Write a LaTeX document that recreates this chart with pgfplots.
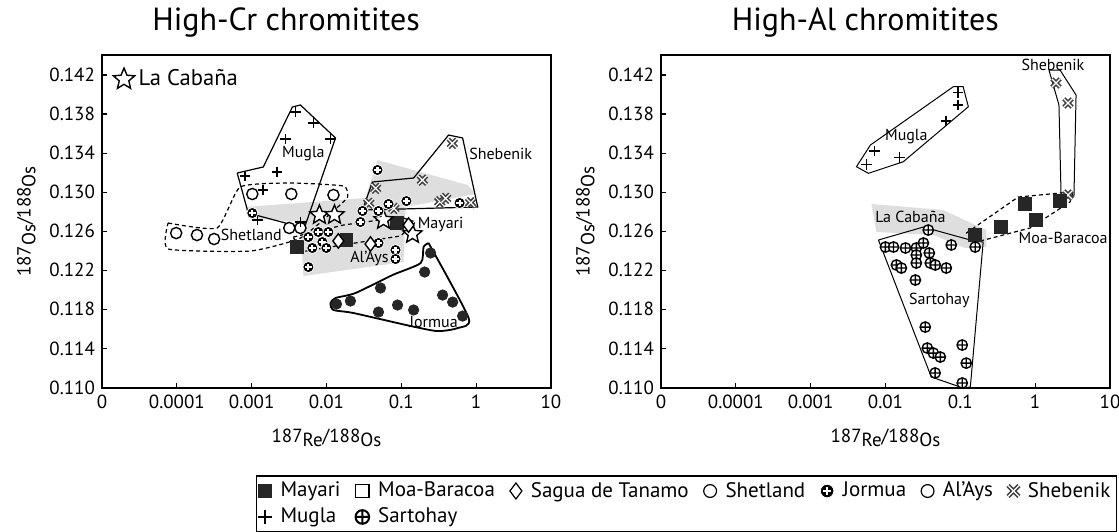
\documentclass[border=0pt]{standalone}
\usepackage{pgfplots}
\pgfplotsset{compat=1.18}
\usepackage{fontspec}
\setmainfont{PT Sans}
\usetikzlibrary{plotmarks}

\pgfdeclareplotmark{fstar}{%
  \pgfpathmoveto{\pgfpointpolar{90}{\pgfplotmarksize}}%
  \pgfpathlineto{\pgfpointpolar{126}{0.45\pgfplotmarksize}}%
  \pgfpathlineto{\pgfpointpolar{162}{\pgfplotmarksize}}%
  \pgfpathlineto{\pgfpointpolar{198}{0.45\pgfplotmarksize}}%
  \pgfpathlineto{\pgfpointpolar{234}{\pgfplotmarksize}}%
  \pgfpathlineto{\pgfpointpolar{270}{0.45\pgfplotmarksize}}%
  \pgfpathlineto{\pgfpointpolar{306}{\pgfplotmarksize}}%
  \pgfpathlineto{\pgfpointpolar{342}{0.45\pgfplotmarksize}}%
  \pgfpathlineto{\pgfpointpolar{18}{\pgfplotmarksize}}%
  \pgfpathlineto{\pgfpointpolar{54}{0.45\pgfplotmarksize}}%
  \pgfpathclose
  \pgfusepathqfillstroke}
\pgfdeclareplotmark{jplus}{%
  \pgfsetfillcolor{black}\pgfsetstrokecolor{white}\pgfsetlinewidth{0.4pt}%
  \pgfpathcircle{\pgfpointorigin}{\pgfplotmarksize}%
  \pgfusepathqfillstroke
  \pgfsetlinewidth{1.1pt}%
  \pgfpathmoveto{\pgfqpoint{-0.6\pgfplotmarksize}{0pt}}\pgfpathlineto{\pgfqpoint{0.6\pgfplotmarksize}{0pt}}%
  \pgfpathmoveto{\pgfqpoint{0pt}{-0.6\pgfplotmarksize}}\pgfpathlineto{\pgfqpoint{0pt}{0.6\pgfplotmarksize}}%
  \pgfusepathqstroke}
\pgfdeclareplotmark{hx}{%
  \pgfsetlinewidth{2.2pt}\pgfsetstrokecolor{black!75}%
  \pgfpathmoveto{\pgfqpoint{-\pgfplotmarksize}{-\pgfplotmarksize}}\pgfpathlineto{\pgfqpoint{\pgfplotmarksize}{\pgfplotmarksize}}%
  \pgfpathmoveto{\pgfqpoint{-\pgfplotmarksize}{\pgfplotmarksize}}\pgfpathlineto{\pgfqpoint{\pgfplotmarksize}{-\pgfplotmarksize}}%
  \pgfusepathqstroke
  \pgfsetlinewidth{0.6pt}\pgfsetstrokecolor{white}%
  \pgfpathmoveto{\pgfqpoint{-\pgfplotmarksize}{-\pgfplotmarksize}}\pgfpathlineto{\pgfqpoint{\pgfplotmarksize}{\pgfplotmarksize}}%
  \pgfpathmoveto{\pgfqpoint{-\pgfplotmarksize}{\pgfplotmarksize}}\pgfpathlineto{\pgfqpoint{\pgfplotmarksize}{-\pgfplotmarksize}}%
  \pgfusepathqstroke}

\pgfplotsset{
  osplot/.style={
    scale only axis, clip=false,
    width=224.5pt, height=166.5pt,
    xmin=1e-5, xmax=10,
    ymin=0.10994, ymax=0.14405,
    axis line style={line width=1pt},
    tick pos=left, tick align=inside, major tick length=2.5pt,
    tick style={black, line width=0.6pt},
    xminorticks=false, yminorticks=false,
    xtick={1e-5,1e-4,1e-3,1e-2,1e-1,1,10},
    xticklabels={0,0.0001,0.001,0.01,0.1,1,10},
    ytick={0.110,0.114,0.118,0.122,0.126,0.130,0.134,0.138,0.142},
    yticklabels={0.110,0.114,0.118,0.122,0.126,0.130,0.134,0.138,0.142},
    ticklabel style={font=\fontsize{9.5}{11}\selectfont},
    label style={font=\fontsize{9.5}{11}\selectfont},
    xlabel={187\raisebox{-0.5ex}{Re}/188\raisebox{-0.5ex}{Os}},
    ylabel={187\raisebox{-0.5ex}{Os}/188\raisebox{-0.5ex}{Os}},
    xlabel style={yshift=-3pt},
    title style={font=\fontsize{16}{19}\selectfont, anchor=base, yshift=6pt},
  },
  poly/.style={black, line width=0.6pt, forget plot},
  dpoly/.style={black, line width=0.6pt, dash pattern=on 2pt off 1.5pt, forget plot},
  grayfield/.style={fill=black!13, draw=none, forget plot},
}
\tikzset{lab/.style={font=\fontsize{8}{9}\selectfont, inner sep=0pt}}

\begin{document}
\begin{tikzpicture}
\useasboundingbox (0,0) rectangle (559.5pt,265.5pt);

% ---------------- Left: High-Cr ----------------
\begin{axis}[xmode=log, osplot, at={(51pt,71.5pt)}, anchor=south west,
  title={High-Cr chromitites}, title style={at={(0.41,1)}},
  legend style={at={(0.02,0.975)}, anchor=north west, draw=none, fill=none,
    font=\fontsize{11.3}{13}\selectfont, inner sep=1pt},
  legend cell align=left]
\addlegendimage{only marks, mark=fstar, mark size=5.6pt, mark options={fill=white, draw=black, line width=0.7pt}}
\addlegendentry{La Cabaña}

\addplot[grayfield] coordinates {(8.2e-4,0.12848) (3.32e-2,0.12940) (4.8e-2,0.13329) (0.769,0.13073) (0.985,0.12981) (0.114,0.12848) (0.107,0.12284) (4.91e-3,0.12141) (4.48e-3,0.12694) (9.0e-4,0.12735)};

\addplot[dpoly, smooth, tension=0.3] coordinates {(7.65e-5,0.12684) (3.46e-4,0.12633) (7.03e-4,0.13053) (3.29e-3,0.13094) (1.68e-2,0.13063) (1.91e-2,0.12950) (1.32e-2,0.12827) (4.48e-3,0.12530) (9.57e-4,0.12397) (7.65e-5,0.12418) (7.65e-5,0.12684)};
\addplot[poly] coordinates {(6.41e-4,0.13196) (1.43e-3,0.13258) (3.50e-3,0.13872) (4.48e-3,0.13893) (1.32e-2,0.13555) (5.22e-3,0.12663) (4.48e-3,0.12643) (9.0e-4,0.12786) (6.41e-4,0.13196)};
\addplot[poly] coordinates {(3.03e-2,0.12817) (4.11e-2,0.13104) (0.146,0.13145) (0.428,0.13585) (0.659,0.13555) (1.05,0.12848) (3.03e-2,0.12817)};
\addplot[dpoly] coordinates {(3.6e-3,0.12540) (1.68e-2,0.12663) (9.75e-2,0.12745) (0.155,0.12694) (9.75e-2,0.12551) (1.63e-2,0.12459) (4.48e-3,0.12387) (3.6e-3,0.12540)};
\addplot[poly, line width=0.9pt, smooth, tension=0.4] coordinates {(0.231,0.12479) (0.794,0.11711) (0.565,0.11608) (0.305,0.11577) (0.133,0.11629) (2.29e-2,0.11762) (1.24e-2,0.11793) (1.13e-2,0.11864) (1.32e-2,0.11916) (2.44e-2,0.11967) (7.62e-2,0.12151) (0.181,0.12274) (0.198,0.12438) (0.231,0.12479)};

\addplot[only marks, forget plot, mark=*, mark size=2.8pt, mark options={fill=white, draw=black, line width=0.7pt}] coordinates {(9.8e-5,0.12581) (1.86e-4,0.12561) (3.15e-4,0.12520) (1.02e-3,0.12981) (3.39e-3,0.12981) (1.24e-2,0.12971) (3.18e-3,0.12633) (4.48e-3,0.12633)};
\addplot[only marks, forget plot, mark=+, mark size=2.6pt, mark options={draw=black, line width=0.8pt}] coordinates {(3.84e-3,0.13824) (2.82e-3,0.13544) (6.68e-3,0.13711) (1.13e-2,0.13544) (2.2e-3,0.13209) (8.2e-4,0.13165) (1.43e-3,0.13022) (1.19e-3,0.12715) (4.48e-3,0.12697)};
\addplot[only marks, forget plot, mark=hx, mark size=2.1pt] coordinates {(0.480,0.13500) (0.191,0.13124) (4.52e-2,0.13039) (3.67e-2,0.12886) (7.94e-2,0.12834) (0.327,0.12902) (0.391,0.12937) (0.844,0.12892)};
\addplot[only marks, forget plot, mark=square*, mark size=3.2pt, mark options={fill=black!85, draw=black!85}] coordinates {(4.07e-3,0.12438) (1.85e-2,0.12510) (8.63e-2,0.12684)};
\addplot[only marks, forget plot, mark=fstar, mark size=5pt, mark options={fill=white, draw=black, line width=0.7pt}] coordinates {(8.04e-3,0.12766) (1.28e-2,0.12766) (5.78e-2,0.12715) (0.141,0.12571)};
\addplot[only marks, forget plot, mark=jplus, mark size=2.8pt] coordinates {(4.80e-2,0.13227) (6.74e-2,0.12879) (0.117,0.12909) (0.601,0.12889) (3.03e-2,0.12807) (4.95e-2,0.12807) (2.84e-2,0.12694) (1.02e-3,0.12786) (5.73e-3,0.12540) (7.79e-3,0.12592) (1.06e-2,0.12592) (8.81e-3,0.12489) (6.47e-3,0.12428) (9.97e-3,0.12428) (5.73e-3,0.12233) (4.95e-2,0.12479) (8.36e-2,0.12407) (8.36e-2,0.12315)};
\addplot[only marks, forget plot, mark=diamond*, mark size=3.6pt, mark options={fill=white, draw=black, line width=0.7pt}] coordinates {(1.44e-2,0.12500) (3.87e-2,0.12469) (0.125,0.12663)};
\addplot[only marks, forget plot, mark=*, mark size=2.6pt, mark options={fill=black!85, draw=black!85}] coordinates {(0.246,0.12377) (0.205,0.12182) (5.27e-2,0.12018) (2.09e-2,0.11885) (1.36e-2,0.11854) (4.95e-2,0.11772) (8.9e-2,0.11844) (0.146,0.11793) (0.356,0.11946) (0.485,0.11874) (0.659,0.11731)};

\node[lab] at (axis cs:4.91e-3,0.13391) {Mugla};
\node[lab] at (axis cs:9.9e-4,0.12561) {Shetland};
\node[lab] at (axis cs:2.13,0.13391) {Shebenik};
\node[lab] at (axis cs:0.335,0.12674) {Mayari};
\node[lab] at (axis cs:3.75e-2,0.12325) {Al’Ays};
\node[lab] at (axis cs:0.27,0.11670) {Jormua};
\end{axis}

% ---------------- Right: High-Al ----------------
\begin{axis}[xmode=log, osplot, at={(330.5pt,71.5pt)}, anchor=south west,
  title={High-Al chromitites}, title style={at={(0.455,1)}},
  legend style={at={(1.016,-0.262)}, anchor=north east, draw=black, line width=0.8pt,
    font=\fontsize{10.5}{11.5}\selectfont, inner sep=1pt,
    nodes={inner ysep=2pt},
    /tikz/every odd column/.append style={column sep=2.5pt},
    /tikz/every even column/.append style={column sep=5.5pt}},
  legend columns=7, legend cell align=left]
\addlegendimage{only marks, mark=square*, mark size=3.3pt, mark options={fill=black!85, draw=black!85, line width=0.6pt}}
\addlegendentry{Mayari}
\addlegendimage{only marks, mark=square*, mark size=3.3pt, mark options={fill=white, draw=black, line width=0.6pt}}
\addlegendentry{Moa-Baracoa}
\addlegendimage{only marks, mark=diamond*, mark size=4pt, mark options={fill=white, draw=black, line width=0.6pt}}
\addlegendentry{Sagua de Tanamo}
\addlegendimage{only marks, mark=*, mark size=3.2pt, mark options={fill=white, draw=black, line width=0.6pt}}
\addlegendentry{Shetland}
\addlegendimage{only marks, mark=jplus, mark size=3.4pt}
\addlegendentry{Jormua}
\addlegendimage{only marks, mark=*, mark size=3.2pt, mark options={fill=white, draw=black, line width=0.6pt}}
\addlegendentry{Al’Ays}
\addlegendimage{only marks, mark=hx, mark size=2.7pt}
\addlegendentry{Shebenik}
\addlegendimage{only marks, mark=+, mark size=3.3pt, mark options={draw=black, line width=0.9pt}}
\addlegendentry{Mugla}
\addlegendimage{only marks, mark=oplus*, mark size=3.4pt, mark options={fill=white, draw=black, line width=1pt}}
\addlegendentry{Sartohay}

\addplot[grayfield] coordinates {(6.49e-3,0.12879) (5.92e-2,0.12817) (0.222,0.12612) (0.222,0.12438) (0.116,0.12428) (4.36e-2,0.12561) (7.57e-3,0.12592)};
\addplot[poly, line width=0.5pt] coordinates {(8.05e-2,0.14080) (0.109,0.14080) (0.128,0.13875) (1.73e-2,0.13312) (5.91e-3,0.13193) (4.09e-3,0.13261) (6.29e-3,0.13483) (8.05e-2,0.14080)};
\addplot[poly, line width=0.5pt] coordinates {(1.53,0.14251) (2.15,0.14251) (3.52,0.13995) (3.30,0.12960) (2.22,0.12960) (2.08,0.13893) (1.53,0.14251)};
\addplot[dpoly] coordinates {(0.12,0.12581) (0.592,0.12950) (2.15,0.12991) (3.21,0.13001) (2.92,0.12899) (0.855,0.12633) (0.163,0.12489) (0.12,0.12581)};
\addplot[poly, line width=0.5pt] coordinates {(8.05e-3,0.12510) (3.21e-2,0.12643) (0.136,0.12510) (0.202,0.12489) (0.136,0.11004) (0.109,0.10994) (4.09e-2,0.11107) (8.05e-3,0.12510)};

\addplot[only marks, forget plot, mark=+, mark size=2.6pt, mark options={draw=black, line width=0.8pt}] coordinates {(9.38e-2,0.14019) (9.38e-2,0.13893) (6.49e-2,0.13729) (7.11e-3,0.13421) (1.53e-2,0.13357) (5.57e-3,0.13285)};
\addplot[only marks, forget plot, mark=hx, mark size=2.1pt] coordinates {(1.90,0.14118) (2.75,0.13913) (2.75,0.12971)};
\addplot[only marks, forget plot, mark=square*, mark size=3.3pt, mark options={fill=black!85, draw=black!85}] coordinates {(0.158,0.12561) (0.352,0.12643) (0.735,0.12879) (1.03,0.12715) (2.15,0.12909)};
\addplot[only marks, forget plot, mark=oplus*, mark size=2.6pt, mark options={fill=white, draw=black, line width=0.7pt}] coordinates {(9.98e-3,0.12438) (1.28e-2,0.12438) (1.85e-2,0.12428) (2.58e-2,0.12428) (3.21e-2,0.12479) (3.73e-2,0.12612) (3.85e-2,0.12377) (2.58e-2,0.12356) (2.58e-2,0.12274) (3.97e-2,0.12274) (4.63e-2,0.12254) (6.49e-2,0.12223) (1.40e-2,0.12254) (1.63e-2,0.12223) (2.51e-2,0.12100) (7.57e-2,0.12459) (0.158,0.12438) (3.40e-2,0.11618) (3.62e-2,0.11403) (4.36e-2,0.11352) (5.40e-2,0.11311) (0.106,0.11434) (0.12,0.11249) (4.6e-2,0.11148) (0.106,0.11045)};

\node[lab] at (axis cs:1.90e-2,0.13565) {Mugla};
\node[lab] at (axis cs:1.73,0.14302) {Shebenik};
\node[lab] at (axis cs:2.15e-2,0.12745) {La Cabaña};
\node[lab] at (axis cs:2.37,0.12530) {Moa-Baracoa};
\node[lab] at (axis cs:5.24e-2,0.11895) {Sartohay};
\end{axis}
\end{tikzpicture}
\end{document}
